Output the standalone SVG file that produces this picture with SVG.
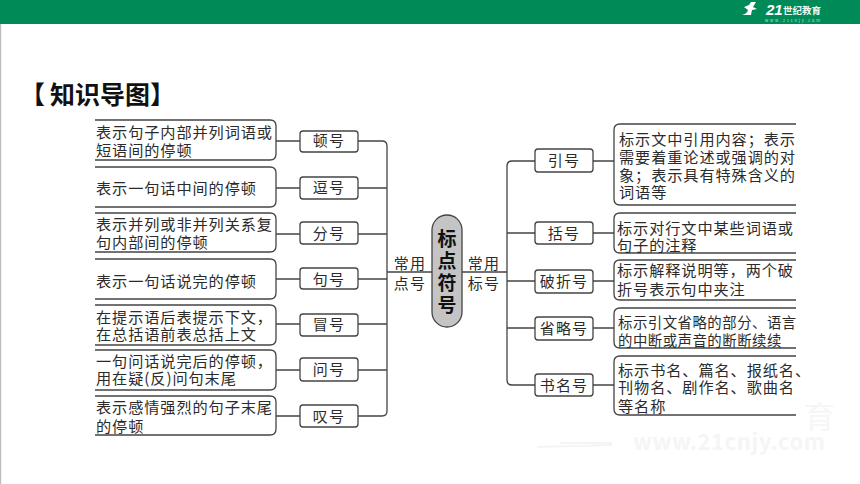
<svg xmlns="http://www.w3.org/2000/svg" width="860" height="484" viewBox="0 0 860 484">
<style>
text{font-family:"Noto Sans CJK SC","Liberation Sans",sans-serif;fill:#2b2b2b}
.d{font-size:15.2px;letter-spacing:0.9px}
.e{font-size:14.4px;letter-spacing:0.5px}
.n{font-size:15px;letter-spacing:1.2px;text-anchor:middle}
.b{fill:#fff;stroke:#444;stroke-width:1.3}
.c{fill:none;stroke:#444;stroke-width:1.3}
</style>
<rect width="860" height="484" fill="#fff"/>
<rect x="0" y="24" width="1.2" height="460" fill="#bdbdbd"/>
<rect width="860" height="24" fill="#008a57"/>
<g id="logo">
<path d="M742 15Q747 14 748 10L744 7L749 5L751 2L756 2L753 7L757 9L752 10L751 15Z" fill="#fff"/>
<text x="766" y="15" font-size="15" font-weight="700" font-style="italic" style="fill:#fff;font-family:'Liberation Sans',sans-serif">21</text>
<text x="783" y="14" font-size="9.500" font-weight="700" style="fill:#eef8f3">世纪教育</text>
<text x="765" y="21.500" font-size="4" textLength="55" style="fill:#bfe3d2">www.21cnjy.com</text>
</g>
<text x="20" y="104" font-size="25" font-weight="700" style="fill:#111"><tspan x="20">【</tspan><tspan x="50">知</tspan><tspan x="75">识</tspan><tspan x="100">导</tspan><tspan x="125">图</tspan><tspan x="150">】</tspan></text>
<g id="watermark">
<text x="804" y="428" font-size="31" style="fill:#f6f6f6">育</text>
<text x="633" y="450" font-size="22" font-weight="700" textLength="192" style="fill:#f5f5f5">www.21cnjy.com</text>
<path d="M537 447L612 445M560 443H612" fill="none" stroke="#f4f4f4" stroke-width="2"/>
</g>
<g id="connectors">
<path class="c" d="M276 141H300M276 188H300M276 234H300M276 279H300M276 324H300M276 370H300M276 416H300"/>
<path class="c" d="M358 141H382Q387 141 387 146V411Q387 416 382 416H358M358 188H387M358 234H387M358 279H387M358 324H387M358 370H387M387 272H432"/>
<path class="c" d="M535 161H512Q507 161 507 166V380Q507 385 512 385H535M507 233H535M507 281H535M507 328H535M462 272H507"/>
<path class="c" d="M593 161H614M593 233H614M593 281H614M593 328H614M593 385H614"/>
</g>
<g id="center"><rect x="432" y="215" width="30" height="112" rx="15" fill="#c4c4c4" stroke="#444" stroke-width="1.300"/>
<text x="447" y="246" font-size="19" font-weight="700" text-anchor="middle" style="fill:#111"><tspan x="447">标</tspan><tspan x="447" dy="22">点</tspan><tspan x="447" dy="22">符</tspan><tspan x="447" dy="22">号</tspan></text></g>
<g id="n1"><rect class="b" x="300" y="131" width="58" height="21" rx="3"/><text class="n" x="329" y="146">顿号</text></g>
<g id="n2"><rect class="b" x="300" y="177" width="58" height="22" rx="3"/><text class="n" x="329" y="193">逗号</text></g>
<g id="n3"><rect class="b" x="300" y="222" width="58" height="22" rx="3"/><text class="n" x="329" y="239">分号</text></g>
<g id="n4"><rect class="b" x="300" y="268" width="58" height="21" rx="3"/><text class="n" x="329" y="285">句号</text></g>
<g id="n5"><rect class="b" x="300" y="314" width="58" height="22" rx="3"/><text class="n" x="329" y="330">冒号</text></g>
<g id="n6"><rect class="b" x="300" y="358" width="58" height="23" rx="3"/><text class="n" x="329" y="375">问号</text></g>
<g id="n7"><rect class="b" x="300" y="405" width="58" height="22" rx="3"/><text class="n" x="329" y="422">叹号</text></g>
<g id="r1"><rect class="b" x="535" y="149" width="58" height="23" rx="3"/><text class="n" x="564" y="166">引号</text></g>
<g id="r2"><rect class="b" x="535" y="222" width="58" height="22" rx="3"/><text class="n" x="564" y="239">括号</text></g>
<g id="r3"><rect class="b" x="535" y="270" width="58" height="23" rx="3"/><text class="n" x="564" y="287">破折号</text></g>
<g id="r4"><rect class="b" x="535" y="317" width="58" height="23" rx="3"/><text class="n" x="564" y="334">省略号</text></g>
<g id="r5"><rect class="b" x="535" y="374" width="58" height="22" rx="3"/><text class="n" x="564" y="391">书名号</text></g>
<g id="labels"><text class="n" x="410" y="269">常用</text><text class="n" x="410" y="289">点号</text><text class="n" x="484" y="269">常用</text><text class="n" x="484" y="289">标号</text></g>
<g id="left">
<path class="c" d="M95 160H270Q276 160 276 154V126Q276 120 270 120H95M95 207H270Q276 207 276 201V173Q276 167 270 167H95M95 252H270Q276 252 276 246V219Q276 213 270 213H95M95 299H270Q276 299 276 293V265Q276 259 270 259H95M95 345H270Q276 345 276 339V311Q276 305 270 305H95M95 390H270Q276 390 276 384V356Q276 350 270 350H95M95 435H270Q276 435 276 429V402Q276 396 270 396H95"/>
<text class="d" x="96" y="138"><tspan x="96">表示句子内部并列词语或</tspan><tspan x="96" dy="18">短语间的停顿</tspan></text>
<text class="d" x="96" y="194">表示一句话中间的停顿</text>
<text class="d" x="96" y="230"><tspan x="96">表示并列或非并列关系复</tspan><tspan x="96" dy="18">句内部间的停顿</tspan></text>
<text class="d" x="96" y="287">表示一句话说完的停顿</text>
<text class="d" x="96" y="323"><tspan x="96">在提示语后表提示下文，</tspan><tspan x="96" dy="17">在总括语前表总括上文</tspan></text>
<text class="d" x="96" y="367"><tspan x="96">一句问话说完后的停顿，</tspan><tspan x="96" dy="17">用在疑(反)问句末尾</tspan></text>
<text class="d" x="96" y="413"><tspan x="96">表示感情强烈的句子末尾</tspan><tspan x="96" dy="19">的停顿</tspan></text>
</g>
<g id="right">
<path class="c" d="M796 124H620Q614 124 614 130V199Q614 205 620 205H796M796 213H620Q614 213 614 219V247Q614 253 620 253H796M796 260H620Q614 260 614 266V294Q614 300 620 300H796M796 308H620Q614 308 614 314V342Q614 348 620 348H796M796 356H620Q614 356 614 362V409Q614 415 620 415H796"/>
<text class="d" x="619" y="145"><tspan x="619">标示文中引用内容；表示</tspan><tspan x="619" dy="18">需要着重论述或强调的对</tspan><tspan x="619" dy="18">象；表示具有特殊含义的</tspan><tspan x="619" dy="17">词语等</tspan></text>
<text class="d" x="617" y="234"><tspan x="617">标示对行文中某些词语或</tspan><tspan x="617" dy="17">句子的注释</tspan></text>
<text class="d" x="617" y="276"><tspan x="617">标示解释说明等，两个破</tspan><tspan x="617" dy="19">折号表示句中夹注</tspan></text>
<text class="e" x="618" y="328"><tspan x="618">标示引文省略的部分、语言</tspan><tspan x="618" dy="18">的中断或声音的断断续续</tspan></text>
<text class="d" x="618" y="376"><tspan x="618">标示书名、篇名、报纸名、</tspan><tspan x="618" dy="17">刊物名、剧作名、歌曲名</tspan><tspan x="618" dy="19">等名称</tspan></text>
</g>
</svg>
